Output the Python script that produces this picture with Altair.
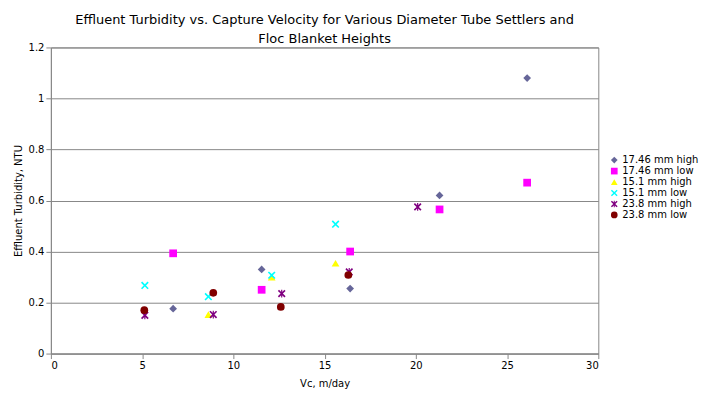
import altair as alt
import pandas as pd

series = ["17.46 mm high", "17.46 mm low", "15.1 mm high", "15.1 mm low", "23.8 mm high", "23.8 mm low"]
colors = ["#666699", "#FF00FF", "#FFFF00", "#00FFFF", "#800080", "#800000"]
xpath = "M-1,-0.7L-0.7,-1L0,-0.3L0.7,-1L1,-0.7L0.3,0L1,0.7L0.7,1L0,0.3L-0.7,1L-1,0.7L-0.3,0Z"
shapes = ["diamond", "square", "triangle-up", xpath,
          xpath + "M-0.15,-1L0.15,-1L0.15,1L-0.15,1Z", "circle"]

vc = {
    "17.46 mm high": [6.7, 11.55, 16.4, 21.3, 26.1],
    "17.46 mm low": [6.7, 11.55, 16.4, 21.3, 26.1],
    "15.1 mm high": [8.63, 12.1, 15.6],
    "15.1 mm low": [5.15, 8.63, 12.1, 15.6],
    "23.8 mm high": [5.15, 8.9, 12.65, 16.35, 20.1],
    "23.8 mm low": [5.12, 8.9, 12.6, 16.3],
}
ntu = {
    "17.46 mm high": [0.176, 0.33, 0.255, 0.62, 1.08],
    "17.46 mm low": [0.393, 0.25, 0.40, 0.565, 0.67],
    "15.1 mm high": [0.153, 0.30, 0.354],
    "15.1 mm low": [0.267, 0.223, 0.307, 0.507],
    "23.8 mm high": [0.15, 0.153, 0.235, 0.32, 0.575],
    "23.8 mm low": [0.17, 0.238, 0.183, 0.308],
}

rows = []
for s in series:
    for x, y in zip(vc[s], ntu[s]):
        rows.append({"series": s, "vc": x, "ntu": y})
df = pd.DataFrame(rows)

chart = (
    alt.Chart(df)
    .mark_point(filled=True, size=60, opacity=1)
    .encode(
        x=alt.X("vc:Q", title="Vc, m/day",
                scale=alt.Scale(domain=[0, 30], nice=False),
                axis=alt.Axis(values=list(range(0, 31, 5)), grid=False, titlePadding=8)),
        y=alt.Y("ntu:Q", title="Effluent Turbidity, NTU",
                scale=alt.Scale(domain=[0, 1.2], nice=False),
                axis=alt.Axis(values=[0, 0.2, 0.4, 0.6, 0.8, 1, 1.2], format="~g",
                              gridColor="#888888", titlePadding=5)),
        color=alt.Color("series:N", scale=alt.Scale(domain=series, range=colors),
                        legend=alt.Legend(title=None, orient="none", legendX=560, legendY=108,
                                          labelFontSize=10, symbolSize=45, rowPadding=1,
                                          labelOffset=3)),
        shape=alt.Shape("series:N", scale=alt.Scale(domain=series, range=shapes)),
    )
    .properties(
        width=549, height=307,
        title=alt.Title(["Effluent Turbidity vs. Capture Velocity for Various Diameter Tube Settlers and",
                         "Floc Blanket Heights"], fontSize=13, fontWeight="normal", offset=-4,
                        lineHeight=20),
        autosize=alt.AutoSizeParams(type="none"),
        padding={"left": 43, "top": 39, "right": 110, "bottom": 45},
    )
    .configure(font="DejaVu Sans")
    .configure_view(stroke="#888888")
    .configure_axis(labelFontSize=10, titleFontSize=10, titleFontWeight="normal",
                    domainColor="#888888", tickColor="#888888", labelColor="black", titleColor="black")
)

chart.save("out.html", embed_options={"renderer": "svg", "actions": False})
